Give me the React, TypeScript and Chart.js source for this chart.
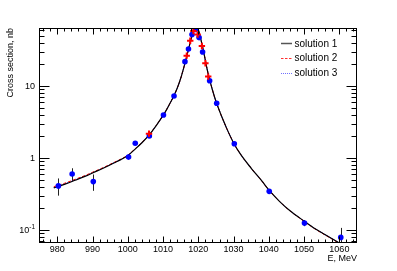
import { useEffect, useRef } from 'react';
import { Chart, registerables } from 'chart.js';

Chart.register(...registerables);

// ---------- data ----------
const blueE = [980.3, 984.2, 990.2, 1000.2, 1002.1, 1006.1, 1010.1, 1013.1, 1016.2, 1017.2, 1018.2, 1019.2, 1020.2, 1021.2, 1023.2, 1025.2, 1030.2, 1040.1, 1050.1, 1060.4];
const blueXS = [0.41, 0.6, 0.47, 1.03, 1.6, 2.02, 3.95, 7.25, 21.8, 32.7, 52, 61, 47, 29.6, 11.8, 5.75, 1.58, 0.344, 0.125, 0.079];
const blueErr = [0.11, 0.12, 0.12, 0.06, 0.08, 0.08, 0.15, 0.3, 1.0, 1.5, 2.0, 2.0, 2.0, 1.5, 0.5, 0.3, 0.08, 0.02, 0.012, 0.028];

const redE = [1006.0, 1016.7, 1017.7, 1018.6, 1019.8, 1021.0, 1022.0, 1022.8];
const redXS = [2.18, 26.4, 42.6, 58, 52, 35.9, 20.7, 13.5];

const curveE = [979, 982, 985, 988, 990, 993, 996, 998, 1000, 1002, 1004, 1006, 1008, 1010, 1011, 1012, 1013, 1014, 1015, 1016, 1016.5, 1017, 1017.5, 1018, 1018.5, 1019, 1019.4, 1019.8, 1020.2, 1020.6, 1021, 1021.5, 1022, 1022.5, 1023, 1023.5, 1024, 1025, 1026, 1027, 1028, 1030, 1032, 1035, 1038, 1040, 1043, 1046, 1050, 1053, 1056, 1060];
const solution1 = [0.385, 0.43, 0.49, 0.56, 0.62, 0.72, 0.85, 0.95, 1.08, 1.32, 1.63, 2.08, 2.8, 3.9, 4.7, 5.8, 7.2, 9.3, 12.8, 19.0, 23.5, 29.5, 37, 46, 55, 63, 67, 64, 56, 47, 38.5, 30, 22.5, 17, 13.3, 10.8, 8.8, 6.1, 4.5, 3.4, 2.6, 1.62, 1.12, 0.72, 0.48, 0.36, 0.25, 0.185, 0.133, 0.105, 0.086, 0.066];
const solution2 = [0.4, 0.445, 0.505, 0.575, 0.635, 0.735, 0.865, 0.965, 1.095, 1.335, 1.645, 2.09, 2.81, 3.91, 4.71, 5.8, 7.2, 9.3, 12.8, 19.0, 23.5, 29.5, 37, 46, 55, 63, 67, 64, 56, 47, 38.5, 30, 22.5, 17, 13.3, 10.8, 8.8, 6.1, 4.5, 3.4, 2.6, 1.62, 1.12, 0.72, 0.48, 0.36, 0.25, 0.184, 0.132, 0.104, 0.085, 0.065];
const solution3 = [0.39, 0.435, 0.495, 0.565, 0.625, 0.725, 0.855, 0.955, 1.085, 1.325, 1.635, 2.085, 2.8, 3.9, 4.7, 5.8, 7.2, 9.3, 12.8, 19.0, 23.5, 29.5, 37, 46, 55, 63, 67, 64, 56, 47, 38.5, 30, 22.5, 17, 13.3, 10.8, 8.8, 6.1, 4.5, 3.4, 2.6, 1.62, 1.12, 0.72, 0.48, 0.36, 0.25, 0.185, 0.133, 0.105, 0.086, 0.066];

const xTickValues = [980, 990, 1000, 1010, 1020, 1030, 1040, 1050, 1060];
const xTickLabels = ['980', '990', '1000', '1010', '1020', '1030', '1040', '1050', '1060'];
const yTickValues = [0.1, 1, 10];
const yTickBases = ['10', '1', '10'];
const yTickExps = ['-1', '', ''];
const legendLabels = ['solution 1', 'solution 2', 'solution 3'];

const xTitle = 'E, MeV';
const yTitle = 'Cross section, nb';

const FONT = '"Liberation Sans", Arial, Helvetica, sans-serif';

const toXY = (xs: number[], ys: number[]) => xs.map((x, i) => ({ x, y: ys[i] }));

const rootPlugin = {
  id: 'rootStyle',
  beforeDatasetsDraw(chart: any) {
    const { ctx, chartArea: a, scales } = chart;
    const x = scales.x, y = scales.y;
    ctx.save();
    ctx.beginPath();
    ctx.rect(a.left, a.top, a.right - a.left, a.bottom - a.top);
    ctx.clip();
    ctx.strokeStyle = '#222';
    ctx.lineWidth = 1;
    blueE.forEach((e, i) => {
      const px = Math.round(x.getPixelForValue(e)) + 0.5;
      const lo = blueXS[i] - blueErr[i];
      const yTop = y.getPixelForValue(blueXS[i] + blueErr[i]);
      const yBot = lo > 0 ? y.getPixelForValue(lo) : a.bottom + 5;
      ctx.beginPath();
      ctx.moveTo(px, yTop);
      ctx.lineTo(px, yBot);
      ctx.stroke();
    });
    ctx.restore();
  },
  afterDraw(chart: any) {
    const { ctx, chartArea: a, scales } = chart;
    const x = scales.x, y = scales.y;
    ctx.save();
    ctx.strokeStyle = '#000';
    ctx.lineWidth = 1;
    const L = Math.round(a.left) + 0.5, R = Math.round(a.right) - 0.5;
    const T = Math.round(a.top) + 0.5, B = Math.round(a.bottom) - 0.5;
    ctx.strokeRect(L, T, R - L, B - T);

    // x ticks (inside, bottom and top)
    ctx.beginPath();
    for (let v = 976; v <= 1064; v += 2) {
      const px = Math.round(x.getPixelForValue(v)) + 0.5;
      const major = v % 10 === 0;
      const len = major ? 6 : 3;
      ctx.moveTo(px, B); ctx.lineTo(px, B - len);
      ctx.moveTo(px, T); ctx.lineTo(px, T + len);
    }
    // y ticks (inside, left and right)
    for (let d = -2; d <= 1; d++) {
      for (let m = 1; m <= 9; m++) {
        const v = m * Math.pow(10, d);
        if (v < y.min || v > y.max) continue;
        const py = Math.round(y.getPixelForValue(v)) + 0.5;
        const len = m === 1 ? 10 : 5;
        ctx.moveTo(L, py); ctx.lineTo(L + len, py);
        ctx.moveTo(R, py); ctx.lineTo(R - len, py);
      }
    }
    ctx.stroke();

    // x tick labels
    ctx.fillStyle = '#000';
    ctx.font = `9px ${FONT}`;
    ctx.textAlign = 'center';
    ctx.textBaseline = 'middle';
    xTickValues.forEach((v, i) => {
      ctx.fillText(xTickLabels[i], x.getPixelForValue(v), a.bottom + 6.5);
    });

    // y tick labels
    const labelRight = a.left - 4;
    yTickValues.forEach((v, i) => {
      const py = y.getPixelForValue(v);
      ctx.textBaseline = 'middle';
      ctx.textAlign = 'left';
      ctx.font = `9px ${FONT}`;
      const wb = ctx.measureText(yTickBases[i]).width;
      let we = 0;
      if (yTickExps[i]) {
        ctx.font = `6.5px ${FONT}`;
        we = ctx.measureText(yTickExps[i]).width;
      }
      const start = labelRight - wb - we;
      ctx.font = `9px ${FONT}`;
      ctx.fillText(yTickBases[i], start, py + 0.5);
      if (yTickExps[i]) {
        ctx.font = `6.5px ${FONT}`;
        ctx.fillText(yTickExps[i], start + wb, py - 2.5);
      }
    });

    // axis titles
    ctx.font = `9px ${FONT}`;
    ctx.textAlign = 'right';
    ctx.textBaseline = 'middle';
    ctx.fillText(xTitle, a.right, a.bottom + 15.5);
    ctx.save();
    ctx.translate(11, a.top);
    ctx.rotate(-Math.PI / 2);
    ctx.textAlign = 'right';
    ctx.fillText(yTitle, 0, 0);
    ctx.restore();

    // legend
    const styles = [
      { color: '#555', dash: [] as number[], w: 1.5 },
      { color: '#ff3030', dash: [2.5, 1.5], w: 1 },
      { color: '#7070ff', dash: [1, 1], w: 1 },
    ];
    const rows = [43.3, 57.8, 72.5];
    ctx.font = `10px ${FONT}`;
    ctx.textAlign = 'left';
    ctx.textBaseline = 'middle';
    legendLabels.forEach((lab, i) => {
      ctx.beginPath();
      ctx.strokeStyle = styles[i].color;
      ctx.lineWidth = styles[i].w;
      ctx.setLineDash(styles[i].dash);
      ctx.moveTo(281, Math.round(rows[i]) + 0.5);
      ctx.lineTo(292, Math.round(rows[i]) + 0.5);
      ctx.stroke();
      ctx.setLineDash([]);
      ctx.fillStyle = '#000';
      ctx.fillText(lab, 294.5, rows[i] + 0.5);
    });
    ctx.restore();
  },
};

export default function App() {
  const ref = useRef<HTMLCanvasElement>(null);
  useEffect(() => {
    document.body.style.margin = '0';
    const chart = new Chart(ref.current as HTMLCanvasElement, {
      type: 'scatter',
      data: {
        datasets: [
          {
            label: 'data 2',
            data: toXY(redE, redXS),
            pointStyle: 'cross',
            pointRadius: 3.2,
            borderColor: '#ff0000',
            backgroundColor: '#ff0000',
            borderWidth: 2,
            showLine: false,
          },
          {
            label: 'data 1',
            data: toXY(blueE, blueXS),
            pointStyle: 'circle',
            pointRadius: 2.8,
            borderWidth: 0,
            backgroundColor: '#0000ff',
            borderColor: '#0000ff',
            showLine: false,
          },
          {
            label: legendLabels[0],
            data: toXY(curveE, solution1),
            showLine: true,
            pointRadius: 0,
            borderColor: '#000000',
            borderWidth: 1.2,
            cubicInterpolationMode: 'monotone',
          } as any,
          {
            label: legendLabels[1],
            data: toXY(curveE, solution2),
            showLine: true,
            pointRadius: 0,
            borderColor: '#ff0000',
            borderWidth: 1,
            borderDash: [3, 2],
            cubicInterpolationMode: 'monotone',
          } as any,
          {
            label: legendLabels[2],
            data: toXY(curveE, solution3),
            showLine: true,
            pointRadius: 0,
            borderColor: '#0000ff',
            borderWidth: 1,
            borderDash: [1, 1],
            cubicInterpolationMode: 'monotone',
          } as any,
        ],
      },
      options: {
        animation: false,
        responsive: false,
        devicePixelRatio: 1,
        layout: { padding: { left: 39, right: 40, top: 28, bottom: 28 } },
        scales: {
          x: { type: 'linear', min: 974.8, max: 1065, display: false },
          y: { type: 'logarithmic', min: 0.066, max: 63.9, display: false },
        },
        plugins: {
          legend: { display: false },
          tooltip: { enabled: false },
        },
      },
      plugins: [rootPlugin],
    });
    return () => chart.destroy();
  }, []);
  return <canvas ref={ref} width={397} height={271} style={{ display: 'block', width: 397, height: 271 }} />;
}
